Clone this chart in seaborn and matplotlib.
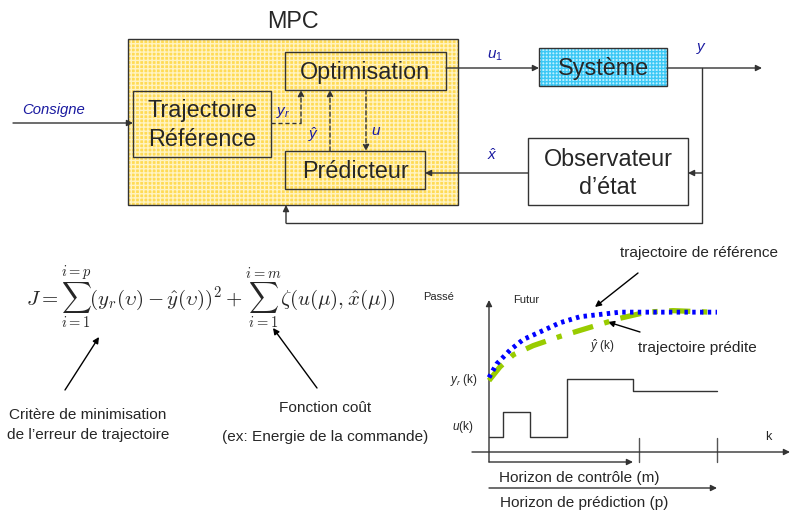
import matplotlib
matplotlib.use('Agg')
import matplotlib.pyplot as plt
import seaborn as sns
from matplotlib.patches import Rectangle

sns.set_theme(style='white')
plt.rcParams['font.family'] = ['Liberation Sans', 'DejaVu Sans']
plt.rcParams['mathtext.fontset'] = 'cm'
plt.rcParams['mathtext.rm'] = 'Liberation Sans'
plt.rcParams['mathtext.it'] = 'Liberation Sans:italic'
plt.rcParams['hatch.linewidth'] = 1.0

# trajectories in the lower right plot (k in horizon units, value 0..1)
k_ref = [0, 0.34, 0.92, 1.5, 2.24, 3.11, 3.99, 4.58, 5.75, 7.2, 10]
y_ref = [0.49, 0.58, 0.67, 0.74, 0.79, 0.85, 0.89, 0.90, 0.92, 0.92, 0.92]
k_pred = [0, 0.48, 1.07, 1.94, 3.11, 4.43, 5.75, 6.9, 8.07, 9.7]
y_pred = [0.47, 0.56, 0.64, 0.70, 0.76, 0.82, 0.88, 0.92, 0.93, 0.92]
k_u = [0, 0.6, 1.8, 3.4, 6.3, 10]
u_val = [0.10, 0.26, 0.10, 0.48, 0.40, 0.40]

fig = plt.figure(figsize=(7.9, 5.11), dpi=100)
ax = fig.add_axes([0, 0, 1, 1])
ax.set_xlim(0, 790)
ax.set_ylim(511, 0)
ax.axis('off')

LC = '#333333'
DASH = (0, (3, 2))
BIG = 16.8
SMALL = 11.1


def box(x0, y0, x1, y1, face=None, grid=None, hatch='++++', lw=1.0):
    if face is not None:
        ax.add_patch(Rectangle((x0, y0), x1 - x0, y1 - y0, facecolor=face, edgecolor='none'))
    if grid is not None:
        ax.add_patch(Rectangle((x0, y0), x1 - x0, y1 - y0, facecolor='none',
                               edgecolor=grid, hatch=hatch, linewidth=0))
    ax.add_patch(Rectangle((x0, y0), x1 - x0, y1 - y0, facecolor='none', edgecolor=LC, linewidth=lw))


def arrow(x0, y0, x1, y1, ls='-', color=LC, lw=1.0):
    ax.annotate('', xy=(x1, y1), xytext=(x0, y0),
                arrowprops=dict(arrowstyle='-|>', color=color, lw=lw, linestyle=ls,
                                mutation_scale=9, shrinkA=0, shrinkB=0))


def line(xs, ys, ls='-', color=LC, lw=1.0):
    ax.plot(xs, ys, color=color, lw=lw, linestyle=ls)


def label(x, y, s, size=10, **kw):
    kw.setdefault('va', 'center')
    ax.text(x, y, s, fontsize=size, math_fontfamily='custom', **kw)


# ---- block diagram ----
box(128, 39, 458, 205, face='#ffdb55', grid='#fff3c2')
box(539, 48, 667, 86, face='#bff0ff', grid='#3cc8f5', hatch='+++++')
box(133, 91, 271, 157)
box(285, 52, 446, 90)
box(285, 151, 425, 189)
box(528, 138, 688, 205, face='white')

ax.text(293, 22, 'MPC', fontsize=BIG, ha='center', va='center')
ax.text(202, 111, 'Trajectoire', fontsize=BIG, ha='center', va='center')
ax.text(202, 139, 'Référence', fontsize=BIG, ha='center', va='center')
ax.text(365, 72, 'Optimisation', fontsize=BIG, ha='center', va='center')
ax.text(355, 171, 'Prédicteur', fontsize=BIG, ha='center', va='center')
ax.text(603, 68, 'Système', fontsize=BIG, ha='center', va='center')
ax.text(608, 159, 'Observateur', fontsize=BIG, ha='center', va='center')
ax.text(608, 187, 'd’état', fontsize=BIG, ha='center', va='center')

blue = '#1a1aa0'
label(22, 110, 'Consigne', size=10.7, style='italic', color=blue)
label(276, 113, r'$y_r$', size=11, color=blue)
label(314, 135, r'$\hat{y}$', size=11, color=blue, ha='center')
label(371, 131, r'$u$', size=11, color=blue)
label(487, 56, r'$u_1$', size=11, color=blue)
label(702, 48, r'$y$', size=11, color=blue, ha='center')
label(492, 155, r'$\hat{x}$', size=11, color=blue, ha='center')

arrow(13, 123, 133, 123)
line([271, 301], [123, 123], ls=DASH)
arrow(301, 123, 301, 90, ls=DASH)
arrow(330, 151, 330, 90, ls=DASH)
arrow(366, 90, 366, 151, ls=DASH)
arrow(446, 68, 539, 68)
arrow(667, 68, 762, 68)
line([702, 702, 286], [68, 223, 223])
arrow(286, 223, 286, 205)
arrow(702, 173, 688, 173)
arrow(528, 173, 425, 173)

# ---- cost function ----
formula = (r'$J=\sum_{i=1}^{i=p}(y_r(\upsilon)-\hat{y}(\upsilon))^2'
           r'+\sum_{i=1}^{i=m}\zeta(u(\mu),\hat{x}(\mu))$')
ax.text(211, 297, formula, fontsize=15, ha='center', va='center')
arrow(65, 390, 99, 337, color='black')
arrow(317, 388, 273, 328, color='black')
ax.text(88, 415, 'Critère de minimisation', fontsize=SMALL, ha='center', va='center')
ax.text(88, 435, 'de l’erreur de trajectoire', fontsize=SMALL, ha='center', va='center')
ax.text(325, 408, 'Fonction coût', fontsize=SMALL, ha='center', va='center')
ax.text(325, 437, '(ex: Energie de la commande)', fontsize=SMALL, ha='center', va='center')

# ---- horizon plot axes (drawn in figure pixels) ----
arrow(489, 462, 489, 300)
arrow(472, 452, 790, 452)
line([639, 639], [438, 462], color='#555555')
line([717, 717], [438, 462], color='#555555')
arrow(489, 462, 633, 462)
arrow(489, 488, 717, 488)
ax.text(499, 478, 'Horizon de contrôle (m)', fontsize=SMALL, va='center')
ax.text(500, 503, 'Horizon de prédiction (p)', fontsize=SMALL, va='center')
ax.text(423, 297, 'Passé', fontsize=8, va='center')
ax.text(513, 300, 'Futur', fontsize=8, va='center')
label(450, 380, r'$y_r$' + ' (k)', size=8.5)
label(452, 427, r'$u$' + '(k)', size=8.5)
ax.text(765, 437, 'k', fontsize=9, va='center')
ax.text(620, 253, 'trajectoire de référence', fontsize=SMALL, va='center')
ax.text(638, 348, 'trajectoire prédite', fontsize=SMALL, va='center')
label(590, 346, r'$\hat{y}$' + ' (k)', size=8.5)
arrow(638, 273, 595, 307, color='black')
arrow(640, 332, 608, 322, color='black')

# data curves in their own axes: k 0..10 -> x 489..717 px, value 0..1 -> y 452..300 px
ax2 = fig.add_axes([489 / 790, 1 - 452 / 511, 228 / 790, 152 / 511])
ax2.set_xlim(0, 10)
ax2.set_ylim(0, 1)
ax2.axis('off')
ax2.patch.set_alpha(0)
sns.lineplot(x=k_pred, y=y_pred, ax=ax2, color='#99cc00', lw=3.8,
             linestyle=(0, (4, 2.2, 1, 2.2)), clip_on=False)
sns.lineplot(x=k_ref, y=y_ref, ax=ax2, color='#0000ff', lw=3.5,
             linestyle=(0, (0.7, 0.9)), clip_on=False)
sns.lineplot(x=k_u, y=u_val, ax=ax2, color=LC, lw=1.0, drawstyle='steps-post', clip_on=False)

fig.savefig('out.png', dpi=100)
